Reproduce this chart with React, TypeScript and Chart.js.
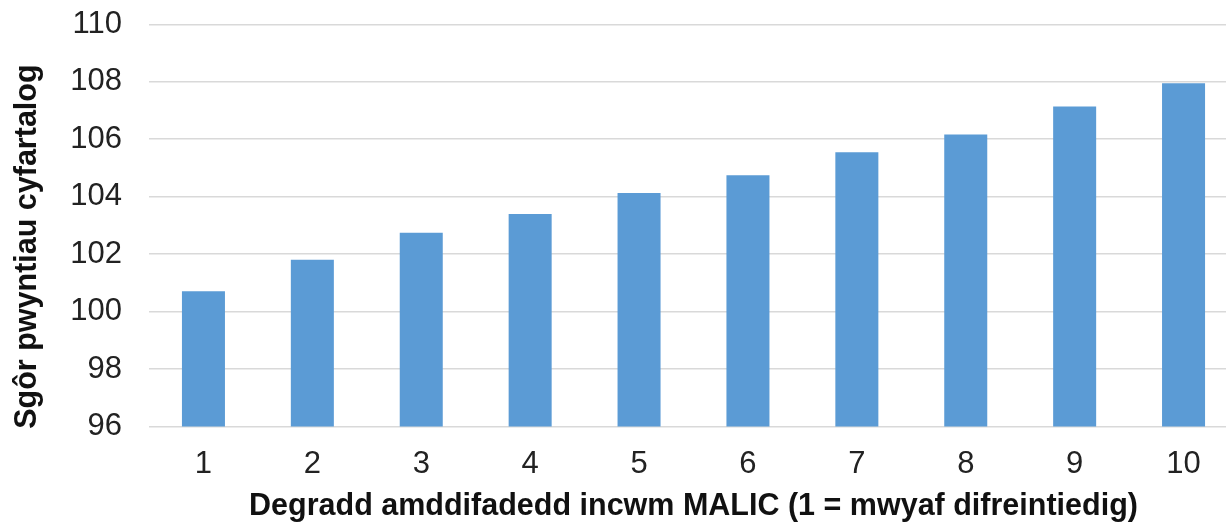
import React, { useEffect, useRef } from "react";
import { Chart, registerables } from "chart.js";

Chart.register(...registerables);

const categories = ["1", "2", "3", "4", "5", "6", "7", "8", "9", "10"];
const scores = [100.71, 101.8, 102.74, 103.4, 104.13, 104.75, 105.55, 106.16, 107.14, 107.95];
const yTickMin = 96;
const yTickMax = 110;
const yTickStep = 2;
const yTitle = "Sgôr pwyntiau cyfartalog";
const xTitle = "Degradd amddifadedd incwm MALIC (1 = mwyaf difreintiedig)";

const FONT = "'Liberation Sans', Arial, sans-serif";

export default function App() {
  const ref = useRef<HTMLCanvasElement | null>(null);

  useEffect(() => {
    if (!ref.current) return;
    const chart = new Chart(ref.current, {
      type: "bar",
      data: {
        labels: categories,
        datasets: [
          {
            data: scores,
            backgroundColor: "#5b9bd5",
            borderWidth: 0,
            barPercentage: 0.395,
            categoryPercentage: 1,
          },
        ],
      },
      options: {
        animation: false,
        responsive: false,
        devicePixelRatio: 1,
        layout: { padding: { top: 24.3, right: 2, bottom: 0, left: 0 } },
        plugins: { legend: { display: false }, tooltip: { enabled: false } },
        scales: {
          x: {
            grid: { display: false, drawTicks: false },
            border: { display: false },
            ticks: {
              color: "#222",
              font: { family: FONT, size: 31, lineHeight: 1 },
              padding: 22,
              maxRotation: 0,
            },
            title: {
              display: true,
              text: xTitle,
              color: "#111",
              font: { family: FONT, size: 30.5, weight: "bold", lineHeight: 1 },
              padding: { top: 0, bottom: 0 },
            },
            afterFit: (s: any) => {
              s.height = 95.5;
              s.paddingLeft = 0;
              s.paddingRight = 0;
            },
          },
          y: {
            min: yTickMin,
            max: yTickMax,
            grid: { color: "#d9d9d9", lineWidth: 1.5, drawTicks: false },
            border: { display: false },
            ticks: {
              stepSize: yTickStep,
              color: "#222",
              font: { family: FONT, size: 31, lineHeight: 1 },
              padding: 27,
            },
            title: {
              display: true,
              text: yTitle + "     ",
              color: "#111",
              font: { family: FONT, size: 30.5, weight: "bold", lineHeight: 1 },
              padding: { top: 12, bottom: 0 },
            },
            afterFit: (s: any) => {
              s.width = 149;
              s.paddingTop = 0;
              s.paddingBottom = 0;
            },
          },
        },
      },
    });
    return () => chart.destroy();
  }, []);

  return (
    <div style={{ position: "fixed", left: 0, top: 0, width: 1240, height: 522, background: "#fff" }}>
      <canvas ref={ref} width={1240} height={522} style={{ display: "block" }} />
    </div>
  );
}
